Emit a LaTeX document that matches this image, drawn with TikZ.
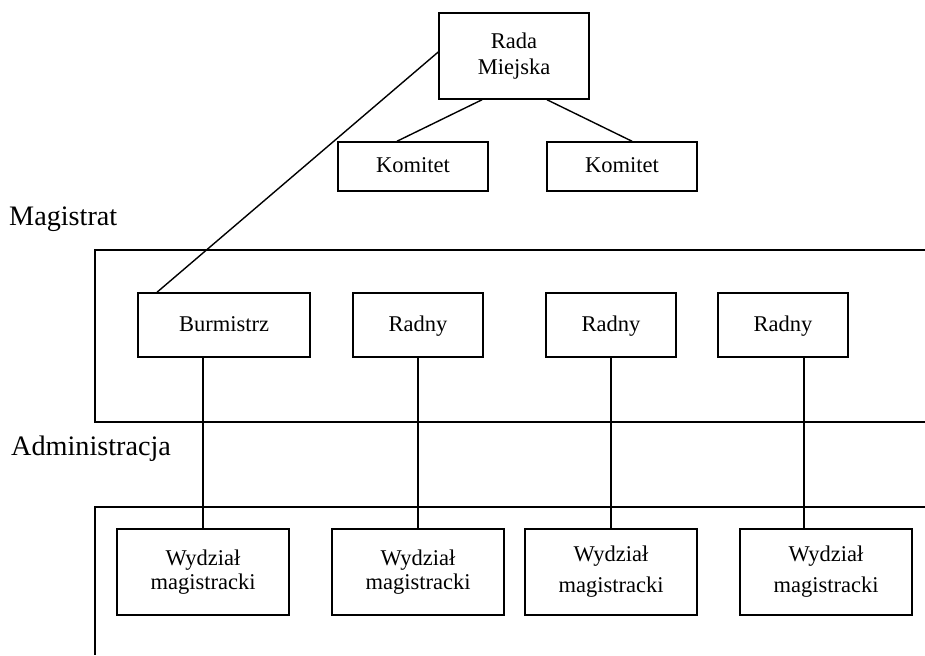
\documentclass[tikz,border=0pt]{standalone}
\usepackage{fontspec}
\setmainfont{Liberation Serif}
\begin{document}
\begin{tikzpicture}[x=1pt,y=-1pt,
  box/.style={draw, line width=1.5pt, inner sep=0pt, align=center, font=\fontsize{22.5}{24}\selectfont},
  one/.style={text height=15pt, text depth=3pt},
  wide/.style={box, minimum width=172pt, minimum height=86pt},
  wideb/.style={wide, font=\fontsize{22.5}{31}\selectfont},
  kbox/.style={box, one, minimum width=150pt, minimum height=49pt},
  rbox/.style={box, one, minimum width=130pt, minimum height=64pt},
  conn/.style={line width=1.4pt},
  frame/.style={line width=1.5pt},
  lbl/.style={inner sep=0pt, anchor=base west, font=\fontsize{28.2}{30}\selectfont}]
\useasboundingbox (0,0) rectangle (925,655);

% section frames
\draw[frame] (925,250) -- (95,250) -- (95,422) -- (925,422);
\draw[frame] (925,507) -- (95,507) -- (95,655);

% labels
\node[lbl] (mag) at (9,225) {Magistrat};
\node[lbl] (adm) at (11,455) {Administracja};

% boxes
\node[box, minimum width=150pt, minimum height=86pt, font=\fontsize{22.5}{26}\selectfont] (rada) at (514,56) {Rada\\Miejska};
\node[kbox] (komL) at (413,166.5) {Komitet};
\node[kbox] (komR) at (622,166.5) {Komitet};

\node[rbox, minimum width=172pt] (burm) at (224,325) {Burmistrz};
\node[rbox] (r1) at (418,325) {Radny};
\node[rbox] (r2) at (611,325) {Radny};
\node[rbox] (r3) at (783,325) {Radny};

\node[wide] (w1) at (203,572) {Wydział\\magistracki};
\node[wide] (w2) at (418,572) {Wydział\\magistracki};
\node[wideb] (w3) at (611,572) {Wydział\\magistracki};
\node[wideb] (w4) at (826,572) {Wydział\\magistracki};

% connectors
\draw[conn] ([xshift=-32pt]rada.south) -- ([xshift=-16pt]komL.north);
\draw[conn] ([xshift=33pt]rada.south) -- ([xshift=10pt]komR.north);
\draw[conn] ([yshift=4pt]rada.west) -- ([xshift=-67pt]burm.north);

\draw[conn] (w1.north |- burm.south) -- (w1.north);
\draw[conn] (r1.south) -- (r1.south |- w2.north);
\draw[conn] (r2.south) -- (r2.south |- w3.north);
\draw[conn] ([xshift=21pt]r3.south) coordinate (t3) -- (t3 |- w4.north);
\end{tikzpicture}
\end{document}
